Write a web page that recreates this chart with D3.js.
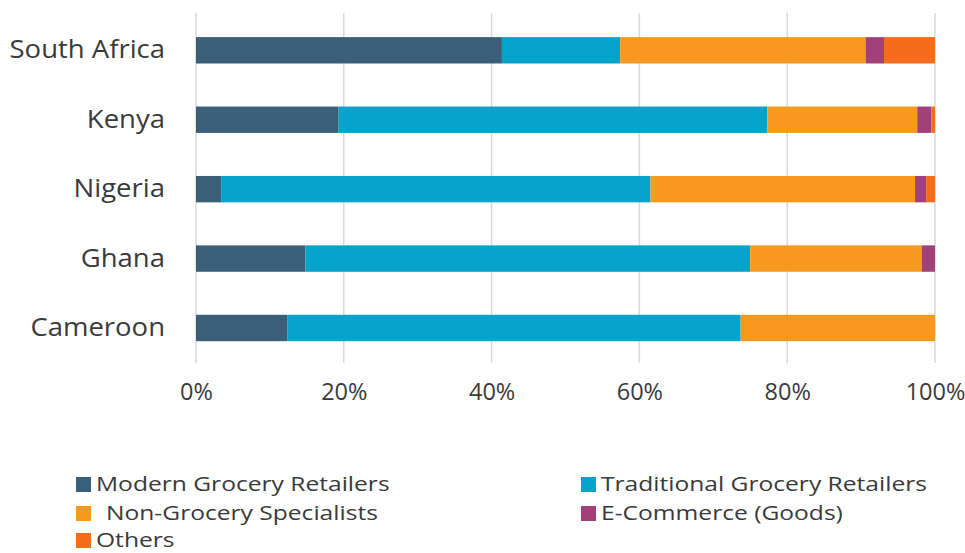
<!DOCTYPE html>
<html>
<head>
<meta charset="utf-8">
<script src="https://cdn.jsdelivr.net/npm/d3@7"></script>
<style>
  body { margin: 0; background: #fff; }
  text { font-family: "Open Sans", sans-serif; fill: #3a3a3a; }
</style>
</head>
<body>
<div id="chart"></div>
<script>
const countries = ["South Africa", "Kenya", "Nigeria", "Ghana", "Cameroon"];
const seriesNames = ["Modern Grocery Retailers", "Traditional Grocery Retailers",
  "Non-Grocery Specialists", "E-Commerce (Goods)", "Others"];
const modern      = [41.4, 19.3, 3.4, 14.8, 12.4];
const traditional = [16.0, 58.0, 58.1, 60.2, 61.3];
const nonGrocery  = [33.2, 20.3, 35.8, 23.2, 26.3];
const eCommerce   = [2.5, 1.9, 1.5, 1.8, 0];
const others      = [6.9, 0.5, 1.2, 0, 0];
const tickValues = [0, 20, 40, 60, 80, 100];
const colors = ["#3a6079", "#04a3cc", "#f7991e", "#a2407a", "#f76b1c"];

const width = 965, height = 553;

const rows = countries.map((c, i) => ({
  country: c,
  [seriesNames[0]]: modern[i],
  [seriesNames[1]]: traditional[i],
  [seriesNames[2]]: nonGrocery[i],
  [seriesNames[3]]: eCommerce[i],
  [seriesNames[4]]: others[i]
}));

const svg = d3.select("#chart")
  .append("svg")
  .attr("width", width)
  .attr("height", height);

const x = d3.scaleLinear()
  .domain([0, 100])
  .range([196, 935]);

const y = d3.scaleBand()
  .domain(countries)
  .range([15.6, 362.7])
  .paddingInner(0.62)
  .paddingOuter(0.31);

const color = d3.scaleOrdinal()
  .domain(seriesNames)
  .range(colors);

// the source font is wider than the installed ones, stretch text a bit
function stretch(sel, s, x0) {
  sel.attr("x", x0 / s).attr("transform", `scale(${s},1)`);
}

// gridlines
svg.append("g")
  .selectAll("line")
  .data(tickValues)
  .join("line")
  .attr("x1", d => x(d))
  .attr("x2", d => x(d))
  .attr("y1", 13)
  .attr("y2", 363)
  .attr("stroke", "#d9d9d9")
  .attr("stroke-width", 1.5);

const stacked = d3.stack().keys(seriesNames)(rows);

svg.append("g")
  .selectAll("g")
  .data(stacked)
  .join("g")
  .attr("fill", d => color(d.key))
  .selectAll("rect")
  .data(d => d)
  .join("rect")
  .attr("x", d => x(d[0]))
  .attr("width", d => x(d[1]) - x(d[0]))
  .attr("y", d => y(d.data.country))
  .attr("height", y.bandwidth());

// x axis labels
const xAxis = d3.axisBottom(x)
  .tickValues(tickValues)
  .tickFormat(d => d + "%")
  .tickSize(0)
  .tickPadding(0);

svg.append("g")
  .attr("transform", "translate(0,383)")
  .call(xAxis)
  .call(g => g.select(".domain").remove())
  .selectAll("text")
  .attr("font-size", 23.5)
  .attr("font-family", "Open Sans")
  .attr("fill", "#3a3a3a");

// y axis labels
const yAxis = d3.axisLeft(y)
  .tickSize(0)
  .tickPadding(31);

svg.append("g")
  .attr("transform", "translate(196,0)")
  .call(yAxis)
  .call(g => g.select(".domain").remove())
  .selectAll("text")
  .attr("font-size", 25)
  .attr("font-family", "Open Sans")
  .attr("fill", "#3a3a3a")
  .call(stretch, 1.1, -31);

// legend
const legendPos = [
  {x: 76, y: 484}, {x: 581, y: 484},
  {x: 76, y: 513}, {x: 581, y: 513},
  {x: 76, y: 540}
];
const legend = svg.append("g")
  .selectAll("g")
  .data(seriesNames)
  .join("g")
  .attr("transform", (d, i) => `translate(${legendPos[i].x},${legendPos[i].y})`);

legend.append("rect")
  .attr("x", 0)
  .attr("y", -7)
  .attr("width", 15)
  .attr("height", 15)
  .attr("fill", d => color(d));

legend.append("text")
  .attr("y", 0)
  .attr("dy", "0.35em")
  .attr("font-size", 20.5)
  .text(d => d)
  .each(function(d, i) {
    d3.select(this).call(stretch, 1.2, i === 2 ? 30 : 20);
  });
</script>
</body>
</html>
